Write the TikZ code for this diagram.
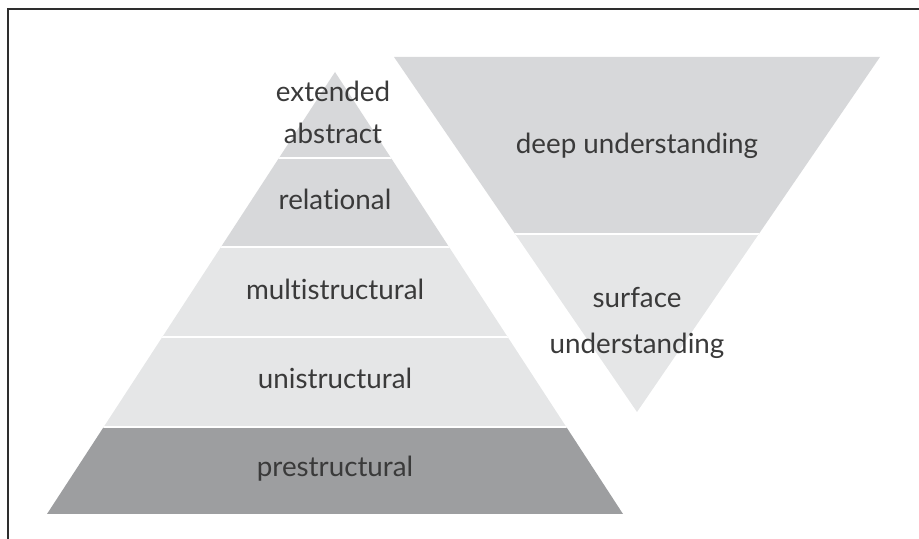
\documentclass[tikz,border=0pt]{standalone}
\usepackage{fontspec}
\setmainfont{Lato}[Ligatures={NoCommon}]
\usepackage{tikz}
\usetikzlibrary{positioning}
\definecolor{lvlgray}{HTML}{D7D8DA}
\definecolor{lvllight}{HTML}{E5E6E7}
\definecolor{lvldark}{HTML}{9D9EA0}
\definecolor{txtgray}{HTML}{3A3A3A}
\definecolor{framegray}{HTML}{2E2E2E}
\tikzset{lvltext/.style={font=\fontsize{15.8}{24}\selectfont, text=txtgray, align=center, inner sep=0pt}}
\tikzset{gap/.style={draw=white, line width=1.2pt}}

\begin{document}
\begin{tikzpicture}
    \useasboundingbox (0,0) rectangle (18.38,10.78);

    % Frame
    \draw[framegray, line width=1.5pt] (0.16,0) -- (0.16,10.60) -- (18.38,10.60);

    % Pyramid
    \begin{scope}
        \clip (0.94,0.50) -- (6.70,9.34) -- (12.46,0.50) -- cycle;
        \fill[lvldark] (0,0.50) rectangle (13,2.24);
        \fill[lvllight] (0,2.24) rectangle (13,5.84);
        \fill[lvlgray] (0,5.84) rectangle (13,9.5);
        \foreach \y in {2.24,4.04,5.84,7.62}
            \draw[gap] (0,\y) -- (13,\y);
    \end{scope}

    % Inverted triangle
    \begin{scope}
        \clip (7.88,9.64) -- (17.60,9.64) -- (12.74,2.54) -- cycle;
        \fill[lvllight] (7,2.5) rectangle (18,6.10);
        \fill[lvlgray] (7,6.10) rectangle (18,9.7);
        \draw[gap] (7,6.10) -- (18,6.10);
    \end{scope}

    % Pyramid labels
    \node[lvltext] (ext) at (6.66,8.54) {extended\\abstract};
    \node[lvltext] (rel) at (6.70,6.80) {relational};
    \node[lvltext] (multi) at (6.70,4.99) {multistructural};
    \node[lvltext] (uni) at (6.70,3.22) {unistructural};
    \node[lvltext] (pre) at (6.70,1.40) {prestructural};

    % Understanding labels
    \node[lvltext] (deep) at (12.74,7.86) {deep understanding};
    \node[lvltext, font=\fontsize{15.8}{26.5}\selectfont] (surf) at (12.74,4.32) {surface\\understanding};
\end{tikzpicture}
\end{document}
